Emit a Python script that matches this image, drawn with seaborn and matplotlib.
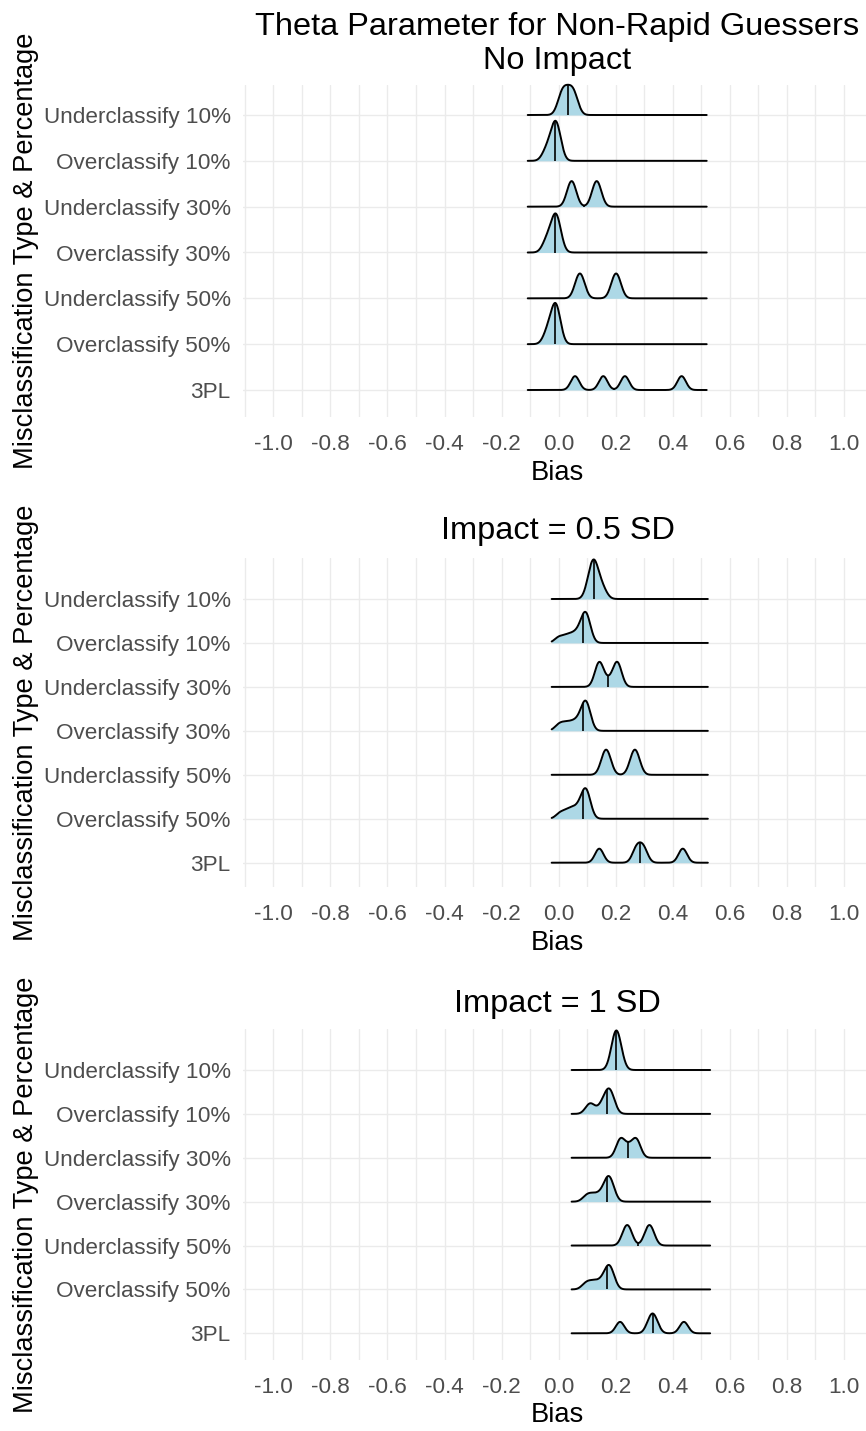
import numpy as np
import pandas as pd
import matplotlib
matplotlib.use("Agg")
import matplotlib.pyplot as plt
import seaborn as sns

# ---------------- data ----------------
CATEGORIES = ["Underclassify 10%", "Overclassify 10%", "Underclassify 30%",
              "Overclassify 30%", "Underclassify 50%", "Overclassify 50%", "3PL"]
PANEL_TITLES = [["Theta Parameter for Non-Rapid Guessers", "No Impact"],
                ["Impact = 0.5 SD"],
                ["Impact = 1 SD"]]
X_TICKS = [-1.0, -0.8, -0.6, -0.4, -0.2, 0.0, 0.2, 0.4, 0.6, 0.8, 1.0]
X_TICK_LABELS = ["-1.0", "-0.8", "-0.6", "-0.4", "-0.2", "0.0",
                 "0.2", "0.4", "0.6", "0.8", "1.0"]
X_MINOR = [-1.1, -0.9, -0.7, -0.5, -0.3, -0.1, 0.1, 0.3, 0.5, 0.7, 0.9]

# Panel 1: No Impact -- bias values per condition
NOIMP_U10 = [0.006, 0.014, 0.022, 0.033, 0.044, 0.052, 0.060]
NOIMP_O10 = [-0.045, -0.028, -0.018, -0.012, -0.008, -0.004, 0.002]
NOIMP_U30 = [0.040, 0.052, 0.128, 0.140]
NOIMP_O30 = [-0.045, -0.030, -0.018, -0.012, -0.008, -0.004, 0.003]
NOIMP_U50 = [0.068, 0.082, 0.195, 0.209]
NOIMP_O50 = [-0.042, -0.028, -0.018, -0.012, -0.008, -0.005, 0.000]
NOIMP_3PL = [0.058, 0.157, 0.233, 0.432]

# Panel 2: Impact = 0.5 SD
IMP05_U10 = [0.106, 0.114, 0.119, 0.123, 0.127, 0.132, 0.142, 0.158]
IMP05_O10 = [0.000, 0.025, 0.045, 0.062, 0.077, 0.086, 0.091, 0.095, 0.098, 0.101, 0.105]
IMP05_U30 = [0.137, 0.140, 0.143, 0.146, 0.149, 0.175, 0.200, 0.203, 0.206, 0.209, 0.212]
IMP05_O30 = [0.000, 0.020, 0.040, 0.058, 0.074, 0.086, 0.091, 0.095, 0.098, 0.101, 0.105]
IMP05_U50 = [0.160, 0.174, 0.261, 0.275]
IMP05_O50 = [0.005, 0.028, 0.045, 0.060, 0.075, 0.086, 0.091, 0.095, 0.098, 0.101, 0.105]
IMP05_3PL = [0.143, 0.274, 0.298, 0.436]

# Panel 3: Impact = 1 SD
IMP1_U10 = [0.190, 0.196, 0.200, 0.203, 0.206, 0.210, 0.218]
IMP1_O10 = [0.105, 0.118, 0.150, 0.165, 0.172, 0.178, 0.184, 0.190]
IMP1_U30 = [0.214, 0.220, 0.245, 0.270, 0.276]
IMP1_O30 = [0.098, 0.118, 0.140, 0.160, 0.169, 0.174, 0.178, 0.183, 0.190]
IMP1_U50 = [0.234, 0.248, 0.312, 0.326]
IMP1_O50 = [0.095, 0.115, 0.135, 0.155, 0.169, 0.174, 0.178, 0.183, 0.190]
IMP1_3PL = [0.216, 0.322, 0.338, 0.440]

PANEL_DATA = [
    [NOIMP_U10, NOIMP_O10, NOIMP_U30, NOIMP_O30, NOIMP_U50, NOIMP_O50, NOIMP_3PL],
    [IMP05_U10, IMP05_O10, IMP05_U30, IMP05_O30, IMP05_U50, IMP05_O50, IMP05_3PL],
    [IMP1_U10, IMP1_O10, IMP1_U30, IMP1_O30, IMP1_U50, IMP1_O50, IMP1_3PL],
]
# range over which each panel's ridges are drawn (data range of the panel)
PANEL_RANGE = [(-0.108, 0.520), (-0.024, 0.524), (0.046, 0.532)]

# ---------------- style ----------------
BW = 0.015            # kernel bandwidth (bias units)
FILL = "#ADD8E6"      # lightblue
GRID = "#EBEBEB"
TICK_COL = "#4D4D4D"
LW = 1.4

sns.set_style("white")
plt.rcParams["font.family"] = ["Liberation Sans", "DejaVu Sans"]
plt.rcParams["axes.unicode_minus"] = False

W, H = 866, 1431
fig = plt.figure(figsize=(W / 100, H / 100), dpi=100)

def rect(left, top, right, bottom):
    return [left / W, 1 - bottom / H, (right - left) / W, (bottom - top) / H]

LEFT, RIGHT = 243, 866
XLIM = (-1.107, 1.0789)
CENTER_X = 557.5
GEOM = [
    dict(top=85.0, bottom=416.7, base_top=115.0, base_bot=390.0, titles=[34.6, 69.1]),
    dict(top=558.3, bottom=886.7, base_top=599.0, base_bot=862.7, titles=[538.6]),
    dict(top=1029.3, bottom=1359.5, base_top=1070.0, base_bot=1333.3, titles=[1011.6]),
]

records = []
for p, rows in enumerate(PANEL_DATA):
    for c, vals in zip(CATEGORIES, rows):
        for v in vals:
            records.append({"panel": p, "category": c, "bias": v})
df = pd.DataFrame(records)

n = len(CATEGORIES)
for p, g in enumerate(GEOM):
    s = (g["base_bot"] - g["base_top"]) / (n - 1)
    bg = fig.add_axes(rect(LEFT, g["top"], RIGHT, g["bottom"]))
    ylo = -(g["bottom"] - g["base_bot"]) / s
    yhi = (n - 1) + (g["base_top"] - g["top"]) / s
    bg.set_ylim(ylo, yhi)
    bg.set_xlim(*XLIM)
    bg.set_yticks([n - 1 - i for i in range(n)], labels=CATEGORIES)
    bg.set_xticks(X_TICKS, labels=X_TICK_LABELS)
    bg.set_xticks(X_MINOR, minor=True)
    bg.grid(True, which="major", color=GRID, linewidth=1.0)
    bg.grid(True, which="minor", axis="x", color=GRID, linewidth=1.0)
    bg.tick_params(which="both", length=0)
    bg.tick_params(axis="x", pad=12.6, labelsize=16.2, labelcolor=TICK_COL)
    bg.tick_params(axis="y", pad=9.0, labelsize=16.2, labelcolor=TICK_COL)
    for sp in bg.spines.values():
        sp.set_visible(False)
    pw = RIGHT - LEFT
    ph = g["bottom"] - g["top"]
    bg.set_xlabel("Bias", fontsize=19.6, color="black")
    bg.xaxis.set_label_coords((CENTER_X - LEFT) / pw, -63.0 / ph)
    bg.xaxis.label.set_va("baseline")
    bg.set_ylabel("Misclassification Type & Percentage", fontsize=19.6, color="black")
    bg.yaxis.set_label_coords((33.3 - LEFT) / pw, 0.5)
    bg.yaxis.label.set_va("baseline")

    for t, yb in zip(PANEL_TITLES[p], g["titles"]):
        fig.text(CENTER_X / W, 1 - yb / H, t, ha="center", va="baseline",
                 fontsize=23.4, color="black")

    sub = df[df["panel"] == p]
    row_axes = []
    dmax = 0.0
    for i, cat in enumerate(CATEGORIES):
        vals = sub.loc[sub["category"] == cat, "bias"].to_numpy()
        b = g["base_top"] + i * s
        rax = fig.add_axes(rect(LEFT, b - s, RIGHT, b), sharex=bg)
        rax.patch.set_visible(False)
        bw_method = BW / np.std(vals, ddof=1)
        kde_kws = dict(bw_method=bw_method, cut=1000, clip=PANEL_RANGE[p], gridsize=600)
        sns.kdeplot(x=vals, ax=rax, fill=True, color=FILL, alpha=1, linewidth=0, **kde_kws)
        sns.kdeplot(x=vals, ax=rax, color="black", linewidth=LW, **kde_kws)
        xs, ys = rax.lines[-1].get_xydata().T
        med = np.median(vals)
        yq = np.interp(med, xs, ys)
        rax.vlines(med, 0, yq, color="black", linewidth=1.2)
        dmax = max(dmax, ys.max())
        for art in list(rax.collections) + list(rax.lines):
            art.set_clip_on(False)
        rax.axis("off")
        row_axes.append(rax)
    for rax in row_axes:
        rax.set_ylim(0, dmax / 0.9)
    bg.set_xlim(*XLIM)

fig.savefig("out.png", dpi=100)
